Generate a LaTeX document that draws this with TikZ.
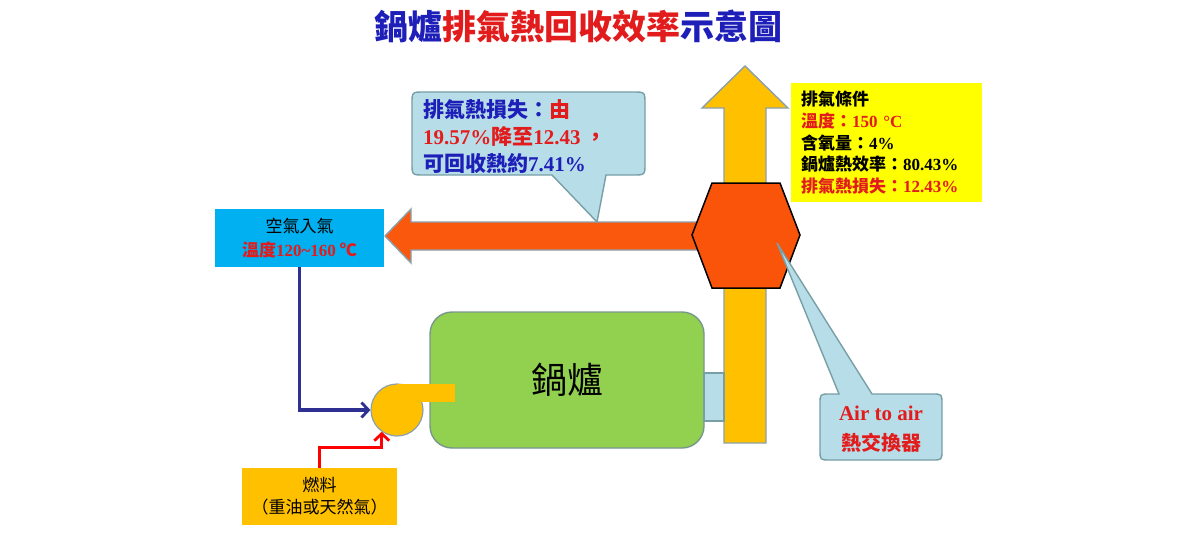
\documentclass[tikz,border=0pt]{standalone}
\usepackage{fontspec}
\setmainfont{Noto Sans CJK TC}
\newfontfamily\tnr{Liberation Serif}[BoldFont={Liberation Serif Bold}]
\usetikzlibrary{arrows.meta,calc}
\definecolor{tblue}{RGB}{30,30,185}
\definecolor{tred}{RGB}{226,28,28}
\definecolor{cyel}{RGB}{255,192,0}
\definecolor{corg}{RGB}{250,88,12}
\definecolor{chex}{RGB}{250,84,10}
\definecolor{cgray}{RGB}{140,160,172}
\definecolor{ccall}{RGB}{183,222,232}
\definecolor{ccallb}{RGB}{120,158,166}
\definecolor{cair}{RGB}{0,176,240}
\definecolor{cgreen}{RGB}{146,208,80}
\definecolor{cgreenb}{RGB}{122,150,140}
\definecolor{cline}{RGB}{46,49,146}
\definecolor{cyb}{RGB}{255,255,0}
\newcommand{\latn}[1]{{\tnr\bfseries #1}}
\begin{document}
\begin{tikzpicture}[x=1pt,y=-1pt,
  arrowline/.style={draw=cgray,line width=1.4pt,line join=miter},
  hexline/.style={draw=black,line width=1.5pt},
  callst/.style={fill=ccall,draw=ccallb,line width=1.4pt},
  flowblue/.style={draw=cline,line width=3.2pt,-{Straight Barb[length=7pt,width=15pt,line width=2.8pt]}},
  flowred/.style={draw=red,line width=3.2pt,-{Straight Barb[length=7pt,width=15pt,line width=2.8pt]}},
  boxtext/.style={inner sep=0pt,align=center,font=\fontsize{17}{24}\selectfont}]
\useasboundingbox (0,0) rectangle (1200,535);

% title
\node[font=\fontsize{34}{38}\selectfont\bfseries] (title) at (578,26)
  {{\color{tblue}鍋爐}{\color{tred}排氣熱回收效率}{\color{tblue}示意圖}};

% exhaust stack arrow (up)
\draw[arrowline,fill=cyel] (745,66) -- (788,108) -- (766,108) -- (766,443)
  -- (724,443) -- (724,108) -- (702,108) -- cycle;
\coordinate (stacktop) at (745,66);

% hot air arrow (left)
\draw[arrowline,fill=corg] (385,236) -- (411,209) -- (411,222) -- (705,222)
  -- (705,250) -- (411,250) -- (411,263) -- cycle;

% heat exchanger hexagon
\draw[hexline,fill=chex] (692,235) -- (712,183) -- (780,183) -- (800,235)
  -- (780,288) -- (712,288) -- cycle;
\coordinate (hx) at (777,243);

% boiler
\node[fill=cgreen,draw=cgreenb,line width=1.4pt,rounded corners=22pt,
  minimum width=274pt,minimum height=136pt,
  font=\fontsize{36}{40}\selectfont] (boiler) at (567,380) {鍋爐};

% duct between boiler and stack
\draw[fill=ccall,draw=ccallb,line width=1.2pt] (704,373) rectangle (724,421);

% burner fan
\node[circle,fill=cyel,draw=cgray,line width=1.2pt,minimum size=52pt,inner sep=0pt] (fan) at (397,410) {};
\fill[cyel] (397,384) rectangle (455,402);

% air inlet box
\node[fill=cair,minimum width=169pt,minimum height=58pt,boxtext] (air) at (299.5,238)
  {空氣入氣\\{\color{tred}\bfseries 溫度\latn{120\textasciitilde160} ℃}};

% fuel box
\node[fill=cyel,minimum width=155pt,minimum height=57pt,boxtext,
  font=\fontsize{17}{22}\selectfont] (fuel) at (319.5,496.5)
  {燃料\\（重油或天然氣）};

% exhaust condition box
\node[fill=cyb,anchor=north west,text width=171pt,inner xsep=10pt,
  minimum height=119pt,align=left,
  font=\fontsize{17}{21.7}\selectfont\bfseries] (cond) at (791,83)
  {排氣條件\\
   {\color{tred}溫度：\latn{150 °C}}\\
   含氧量：\latn{4\%}\\
   鍋爐熱效率：\latn{80.43\%}\\
   {\color{tred}排氣熱損失：\latn{12.43\%}}};

% callout 1
\draw[callst] (552,175) -- (424,175) .. controls (412,175) .. (412,163)
  -- (412,104) .. controls (412,92) .. (424,92) -- (633,92)
  .. controls (645,92) .. (645,104) -- (645,163) .. controls (645,175) .. (633,175)
  -- (606,175) -- (597,222) -- cycle;
\node[anchor=west,align=left,inner sep=0pt,
  font=\fontsize{21}{27}\selectfont\bfseries] (note1) at (423,137)
  {{\color{tblue}排氣熱損失：}{\color{tred}由}\\
   {\color{tred}\latn{19.57\%}降至\latn{12.43 }，}\\
   {\color{tblue}可回收熱約\latn{7.41\%}}};

% callout 2
\draw[callst] (839,394) -- (hx) -- (872,394) -- (932,394)
  .. controls (942,394) .. (942,404) -- (942,450) .. controls (942,460) .. (932,460)
  -- (830,460) .. controls (820,460) .. (820,450) -- (820,404)
  .. controls (820,394) .. (830,394) -- cycle;
\node[align=center,inner sep=0pt,text=tred,
  font=\fontsize{20}{30}\selectfont\bfseries] (note2) at (881,429)
  {\latn{\fontsize{21}{30}\selectfont Air to air}\\熱交換器};

% connectors
\draw[flowblue] (air.south) |- (fan.west);
\draw[flowred] (fuel.north) -- ++(0,-20) -| (fan.235);
\end{tikzpicture}
\end{document}
